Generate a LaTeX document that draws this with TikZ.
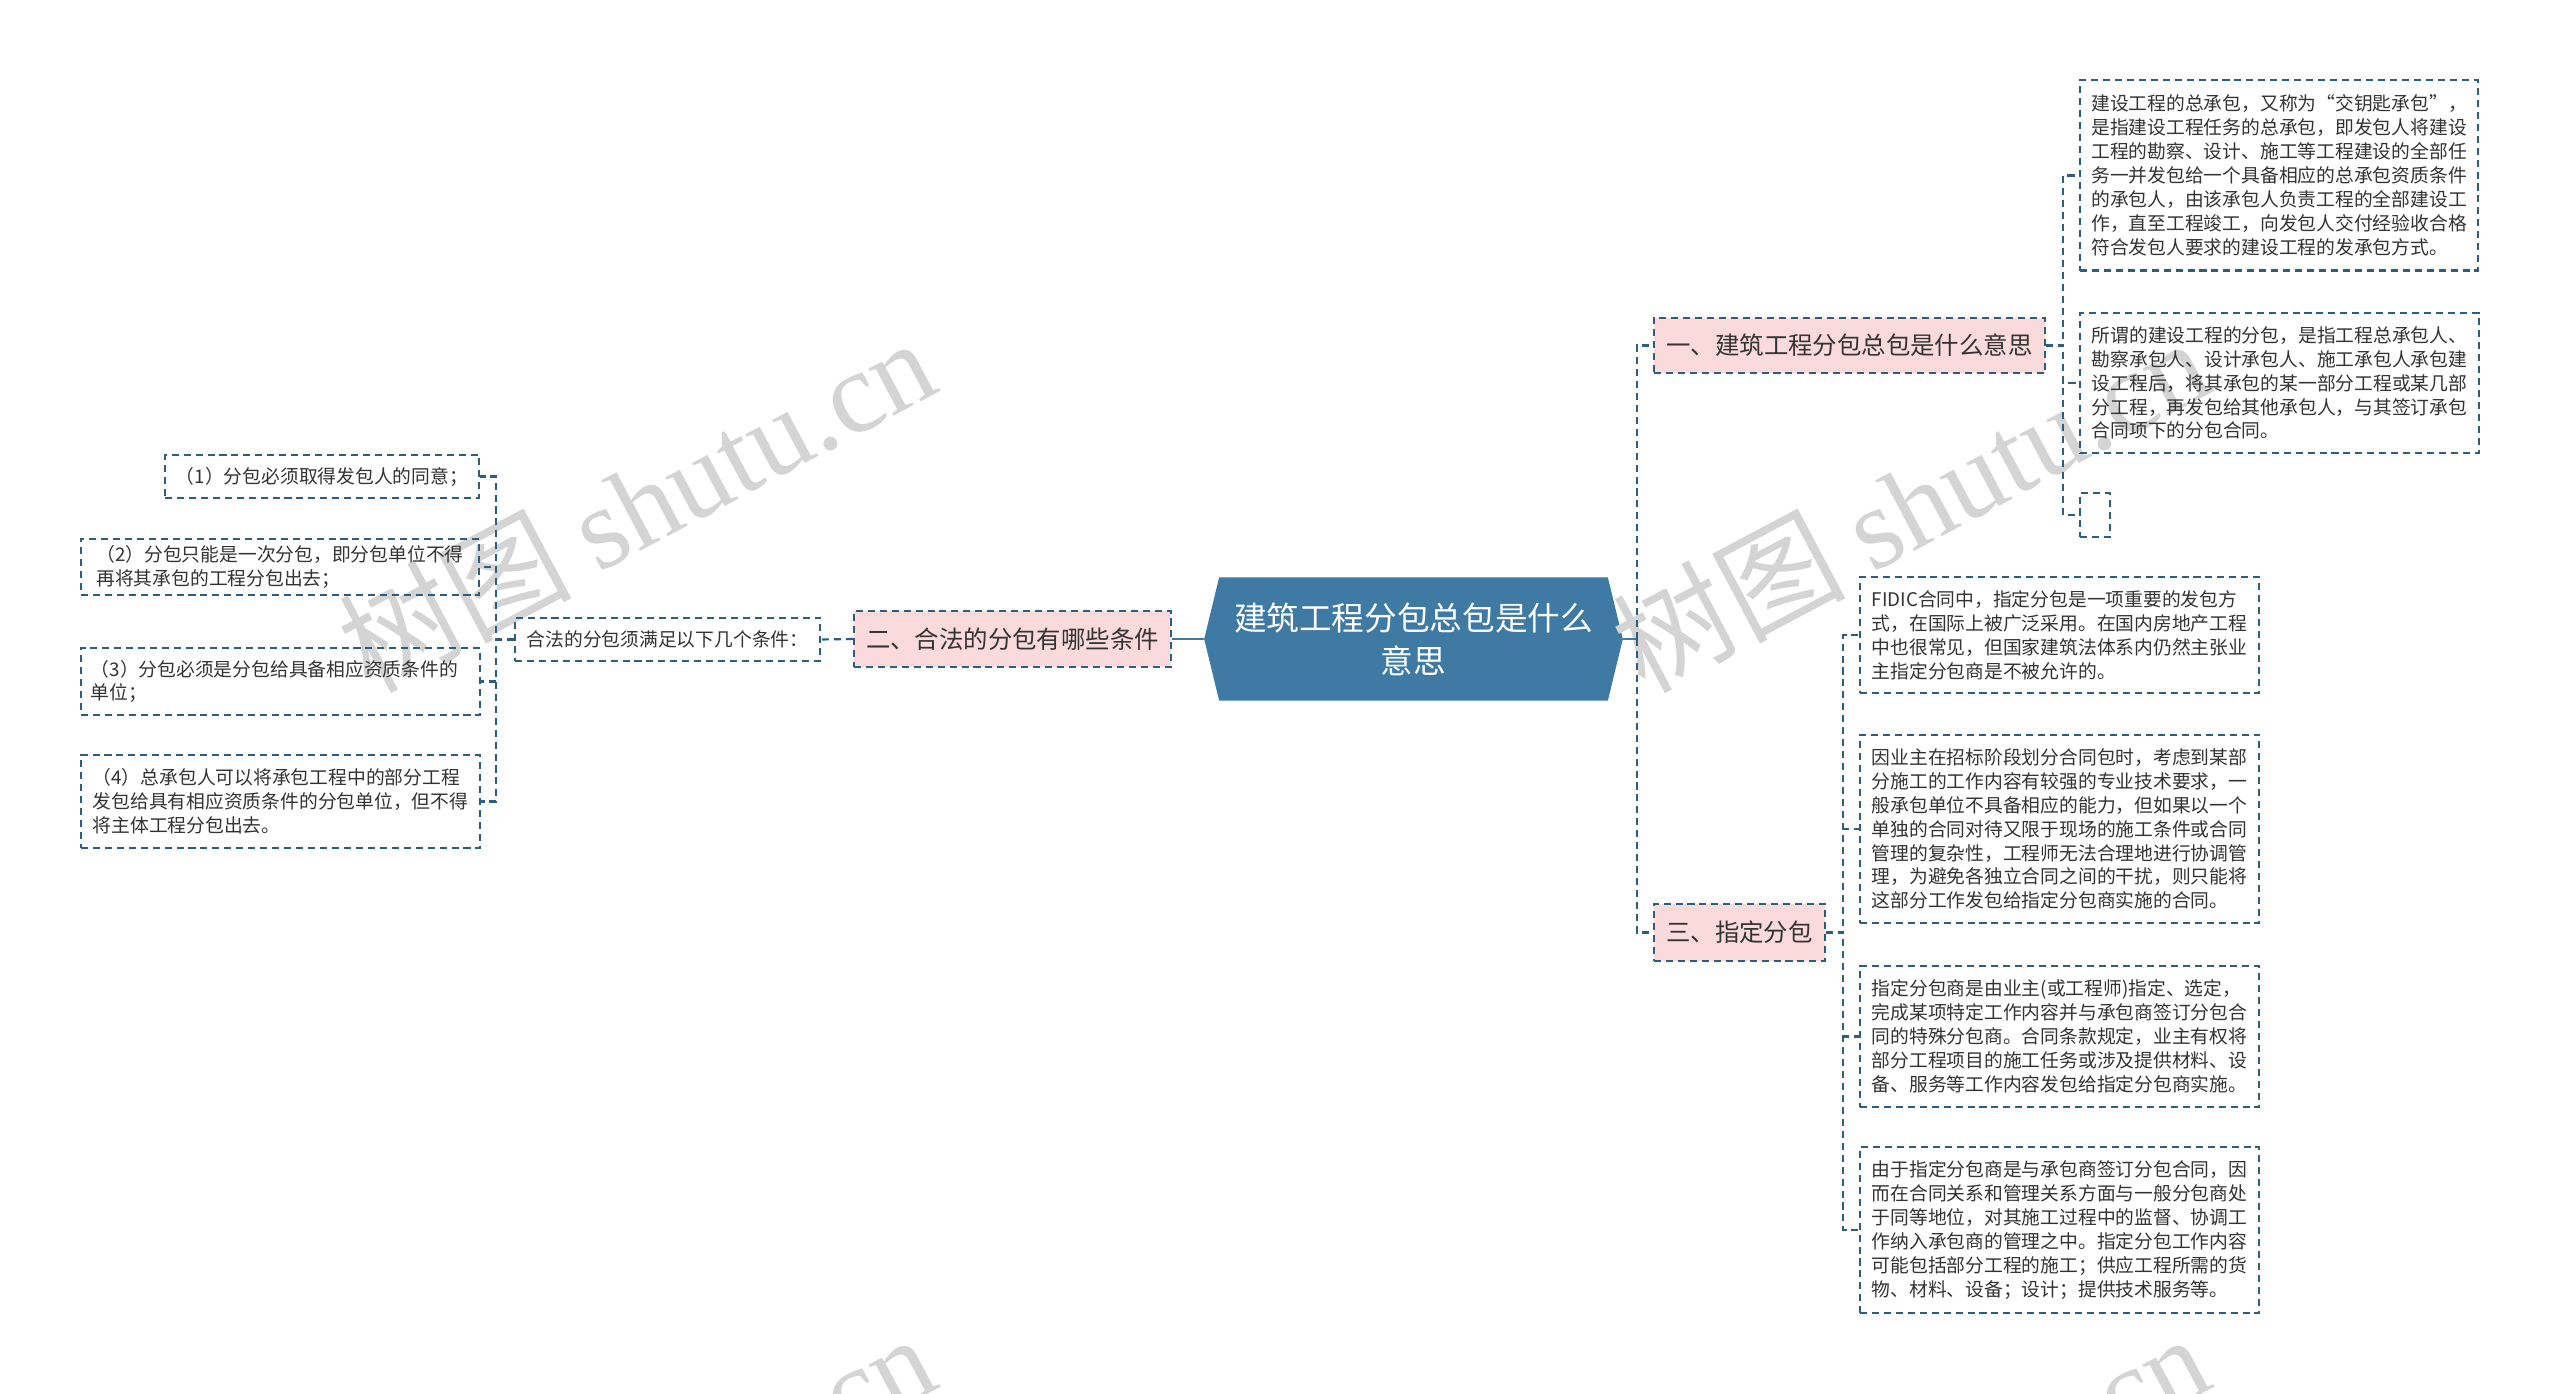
\documentclass[tikz,border=0pt]{standalone}
\usepackage{fontspec}
\setmainfont{Noto Sans CJK SC}
\newfontfamily\wmlatin{Liberation Serif}
\usetikzlibrary{backgrounds}
\definecolor{lineblue}{RGB}{46,94,126}
\definecolor{rootblue}{RGB}{62,122,163}
\definecolor{pinkfill}{RGB}{250,218,218}
\definecolor{txt}{RGB}{51,51,51}
\definecolor{wm}{RGB}{212,212,212}
\begin{document}
\begin{tikzpicture}[x=0.01cm,y=-0.01cm,
  conn/.style={draw=lineblue, line width=0.6pt, dash pattern=on 2pt off 1.4pt},
  rootconn/.style={draw=rootblue, line width=0.8pt},
  leaf/.style={conn, inner sep=0pt, align=left, text=txt, font=\fontsize{5.34pt}{6.8pt}\selectfont},
  lvl/.style={conn, fill=pinkfill, inner sep=0pt, text=txt, font=\fontsize{6.94pt}{8.5pt}\selectfont},
  wmark/.style={anchor=base west, rotate=28, text=wm, inner sep=0pt, font=\fontsize{33pt}{33pt}\selectfont},
]
\useasboundingbox (0,0) rectangle (2560,1394);

% watermarks
\begin{scope}
\clip (0,0) rectangle (2560,1394);
\node[wmark] (wma) at (370,695) {树图 {\wmlatin shutu.cn}};
\node[wmark] (wmb) at (1644,695) {树图 {\wmlatin shutu.cn}};
\node[wmark] (wmc) at (370,1691) {树图 {\wmlatin shutu.cn}};
\node[wmark] (wmd) at (1644,1691) {树图 {\wmlatin shutu.cn}};
\end{scope}

% root
\node[inner sep=0pt, minimum width=4.17cm, minimum height=1.22cm, align=center, text=white,
      font=\fontsize{9.28pt}{12.2pt}\selectfont] (root) at (1413.5,639) {建筑工程分包总包是什么\\意思};
\begin{scope}[on background layer]
\fill[white] (0,0) rectangle (2560,1394);
\fill[rootblue] (root.west) -- ([xshift=0.15cm]root.north west) -- ([xshift=-0.15cm]root.north east)
  -- (root.east) -- ([xshift=-0.15cm]root.south east) -- ([xshift=0.15cm]root.south west) -- cycle;
\end{scope}

% level 1
\node[lvl, minimum width=3.91cm, minimum height=0.55cm] (r1) at (1849.5,345.5) {一、建筑工程分包总包是什么意思};
\node[lvl, minimum width=1.71cm, minimum height=0.57cm] (r3) at (1739.5,932.5) {三、指定分包};
\node[lvl, minimum width=3.17cm, minimum height=0.56cm] (l2) at (1012.5,639) {二、合法的分包有哪些条件};

% left side
\node[leaf, minimum width=3.05cm, minimum height=0.43cm] (l1) at (667.5,639.5) {合法的分包须满足以下几个条件：};
\node[leaf, minimum width=3.14cm, minimum height=0.43cm] (ll1) at (322,476.5) {（1）分包必须取得发包人的同意；};
\node[leaf, minimum width=3.98cm, minimum height=0.56cm] (ll2) at (280,567) {（2）分包只能是一次分包，即分包单位不得\\再将其承包的工程分包出去；};
\node[leaf, minimum width=3.99cm, minimum height=0.67cm, text width=3.79cm] (ll3) at (280.5,681.5) {（3）分包必须是分包给具备相应资质条件的\\单位；};
\node[leaf, minimum width=3.99cm, minimum height=0.93cm] (ll4) at (280.5,801.5) {（4）总承包人可以将承包工程中的部分工程\\发包给具有相应资质条件的分包单位，但不得\\将主体工程分包出去。};

% right side, part one
\node[leaf, minimum width=3.98cm, minimum height=1.90cm] (ra) at (2279,175.5) {建设工程的总承包，又称为“交钥匙承包”，\\是指建设工程任务的总承包，即发包人将建设\\工程的勘察、设计、施工等工程建设的全部任\\务一并发包给一个具备相应的总承包资质条件\\的承包人，由该承包人负责工程的全部建设工\\作，直至工程竣工，向发包人交付经验收合格\\符合发包人要求的建设工程的发承包方式。};
\node[leaf, minimum width=3.98cm, minimum height=1.40cm] (rb) at (2279.5,383) {所谓的建设工程的分包，是指工程总承包人、\\勘察承包人、设计承包人、施工承包人承包建\\设工程后，将其承包的某一部分工程或某几部\\分工程，再发包给其他承包人，与其签订承包\\合同项下的分包合同。};
\node[leaf, minimum width=0.30cm, minimum height=0.44cm] (rc) at (2095,515) {};

% right side, part three
\node[leaf, minimum width=3.99cm, minimum height=1.16cm] (rd) at (2059.5,635) {FIDIC合同中，指定分包是一项重要的发包方\\式，在国际上被广泛采用。在国内房地产工程\\中也很常见，但国家建筑法体系内仍然主张业\\主指定分包商是不被允许的。};
\node[leaf, minimum width=3.99cm, minimum height=1.88cm] (re) at (2059.5,829) {因业主在招标阶段划分合同包时，考虑到某部\\分施工的工作内容有较强的专业技术要求，一\\般承包单位不具备相应的能力，但如果以一个\\单独的合同对待又限于现场的施工条件或合同\\管理的复杂性，工程师无法合理地进行协调管\\理，为避免各独立合同之间的干扰，则只能将\\这部分工作发包给指定分包商实施的合同。};
\node[leaf, minimum width=3.99cm, minimum height=1.41cm] (rf) at (2059.5,1036.5) {指定分包商是由业主(或工程师)指定、选定，\\完成某项特定工作内容并与承包商签订分包合\\同的特殊分包商。合同条款规定，业主有权将\\部分工程项目的施工任务或涉及提供材料、设\\备、服务等工作内容发包给指定分包商实施。};
\node[leaf, minimum width=3.99cm, minimum height=1.66cm] (rg) at (2059.5,1230) {由于指定分包商是与承包商签订分包合同，因\\而在合同关系和管理关系方面与一般分包商处\\于同等地位，对其施工过程中的监督、协调工\\作纳入承包商的管理之中。指定分包工作内容\\可能包括部分工程的施工；供应工程所需的货\\物、材料、设备；设计；提供技术服务等。};

% connectors
\draw[rootconn] (root.west) -- (l2.east);
\draw[conn] (l2.west) -- (l1.east);
\draw[conn] (l1.west) -- ++(-17.5,0) |- (ll1.east);
\draw[conn] (l1.west) -- ++(-17.5,0) |- (ll2.east);
\draw[conn] (l1.west) -- ++(-17.5,0) |- (ll3.east);
\draw[conn] (l1.west) -- ++(-17.5,0) |- (ll4.east);

\coordinate (rj) at ([xshift=0.14cm]root.east);
\draw[rootconn] (root.east) -- (rj);
\draw[conn] (rj) |- (r1.west);
\draw[conn] (rj) |- (r3.west);

\draw[conn] (r1.east) -- ++(17,0) |- (ra.west);
\draw[conn] (r1.east) -- ++(17,0) |- (rb.west);
\draw[conn] (r1.east) -- ++(17,0) |- (rc.west);

\draw[conn] (r3.east) -- ++(17,0) |- (rd.west);
\draw[conn] (r3.east) -- ++(17,0) |- (re.west);
\draw[conn] (r3.east) -- ++(17,0) |- (rf.west);
\draw[conn] (r3.east) -- ++(17,0) |- (rg.west);
\end{tikzpicture}
\end{document}
